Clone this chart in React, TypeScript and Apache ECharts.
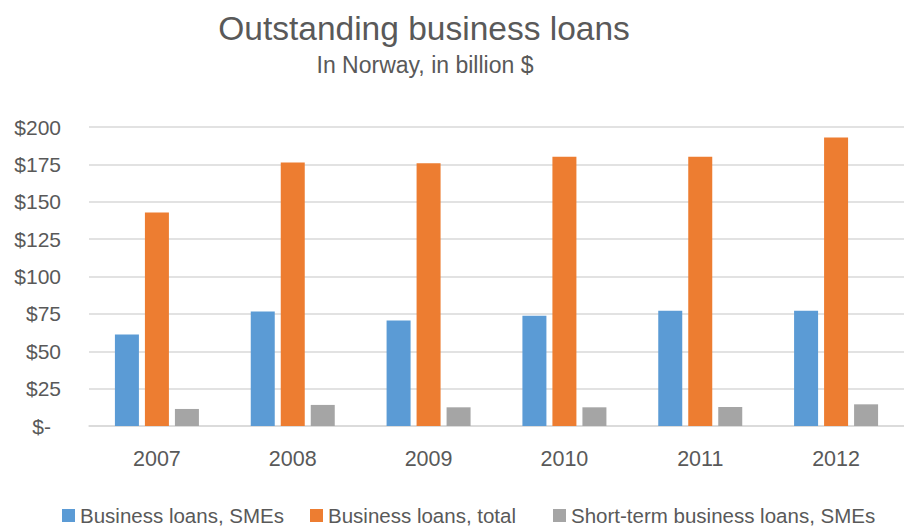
import React, { useEffect, useRef } from "react";
import * as echarts from "echarts";

const years = ["2007", "2008", "2009", "2010", "2011", "2012"];
const smeLoans = [61.2, 76.6, 70.6, 73.7, 77.1, 77.1];
const totalLoans = [142.8, 176.3, 175.8, 180.1, 180.1, 193.0];
const shortTermSme = [11.4, 14.1, 12.5, 12.5, 12.7, 14.5];
const seriesNames = ["Business loans, SMEs", "Business loans, total", "Short-term business loans, SMEs"];
const colors = ["#5B9BD5", "#ED7D31", "#A5A5A5"];

const FONT = "Liberation Sans";
const TEXT = "#595959";

export default function App() {
  const ref = useRef<HTMLDivElement>(null);
  useEffect(() => {
    if (!ref.current) return;
    const chart = echarts.init(ref.current, undefined, { renderer: "svg" });
    const mk = (name: string, data: number[], color: string) => ({
      name,
      type: "bar",
      data,
      barWidth: 24,
      barGap: "25%",
      itemStyle: { color },
    });
    const legendLefts = [62, 310, 553];
    chart.setOption({
      animation: false,
      backgroundColor: "#ffffff",
      textStyle: { fontFamily: FONT },
      title: [
        {
          text: "Outstanding business loans",
          left: 419,
          top: 6,
          textAlign: "center",
          textStyle: { fontFamily: FONT, fontSize: 33.5, fontWeight: "normal", color: TEXT },
        },
        {
          text: "In Norway, in billion $",
          left: 420,
          top: 48,
          textAlign: "center",
          textStyle: { fontFamily: FONT, fontSize: 23, fontWeight: "normal", color: TEXT },
        },
      ],
      legend: seriesNames.map((n, i) => ({
        data: [n],
        left: legendLefts[i],
        top: 505,
        padding: 0,
        itemWidth: 13,
        itemHeight: 13,
        icon: "rect",
        textStyle: { fontFamily: FONT, fontSize: 20.5, color: TEXT, padding: [0, 0, 0, 0] },
      })),
      grid: { left: 89, width: 825, top: 127, height: 299, containLabel: false },
      xAxis: {
        type: "category",
        data: years,
        axisLine: { show: true, lineStyle: { color: "#d9d9d9", width: 1.5 } },
        axisTick: { show: false },
        axisLabel: { fontFamily: FONT, fontSize: 21.5, color: TEXT, margin: 22 },
      },
      yAxis: {
        type: "value",
        min: 0,
        max: 200,
        interval: 25,
        axisLine: { show: false },
        axisTick: { show: false },
        splitLine: { lineStyle: { color: "#d9d9d9", width: 1.5 } },
        axisLabel: {
          fontFamily: FONT,
          fontSize: 21,
          color: TEXT,
          margin: 28,
          formatter: (v: number) => (v === 0 ? "{z|$-}" : "$" + v),
          rich: { z: { fontFamily: FONT, fontSize: 21, color: TEXT, padding: [0, 10, 0, 0] } },
        },
      },
      series: [
        mk(seriesNames[0], smeLoans, colors[0]),
        mk(seriesNames[1], totalLoans, colors[1]),
        mk(seriesNames[2], shortTermSme, colors[2]),
      ],
    });
    return () => chart.dispose();
  }, []);
  return (
    <div
      ref={ref}
      style={{ position: "fixed", left: 0, top: 0, width: 904, height: 526, overflow: "hidden" }}
    />
  );
}
